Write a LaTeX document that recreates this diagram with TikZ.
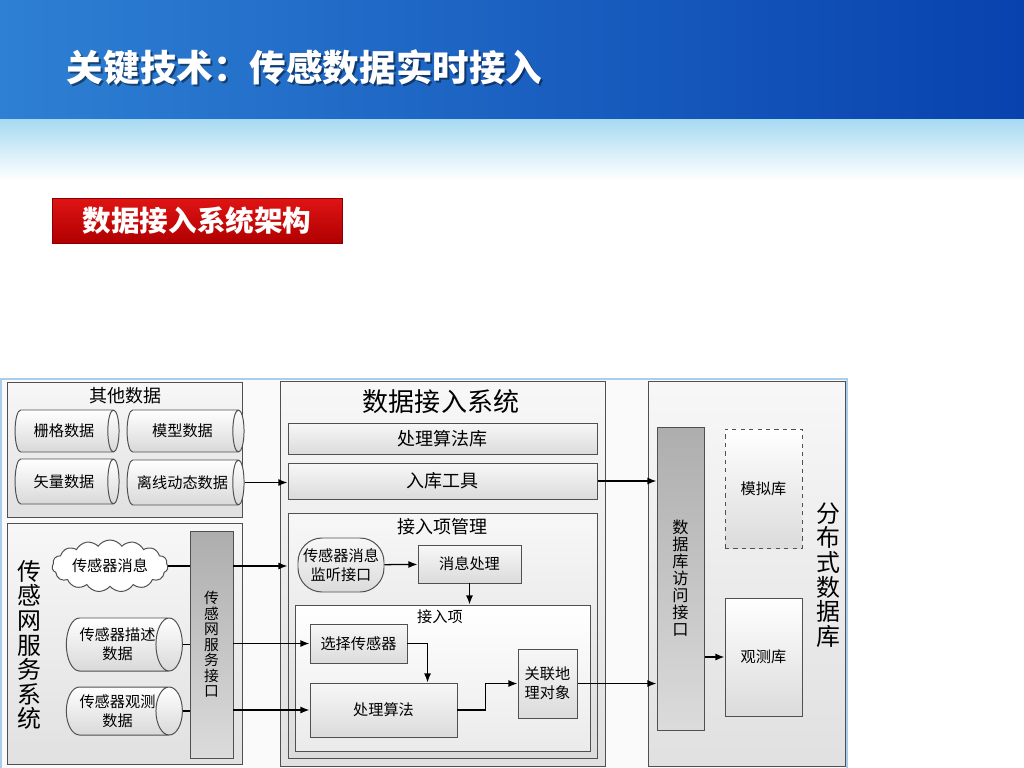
\documentclass[tikz,border=0pt]{standalone}
\usepackage{fontspec}
\setmainfont{Noto Sans CJK SC}
\usetikzlibrary{shapes.geometric,shapes.symbols,arrows.meta}

\definecolor{hdrleft}{HTML}{2E80D4}
\definecolor{hdrright}{HTML}{0842AE}
\definecolor{glow}{HTML}{A8DAF2}
\definecolor{bannertop}{HTML}{E01414}
\definecolor{bannerbot}{HTML}{B00000}
\definecolor{bannerdark}{HTML}{8A0000}
\definecolor{framecol}{HTML}{A9CDEB}
\definecolor{edgecol}{HTML}{505050}

\tikzset{
    dims/.style 2 args={minimum width=#1*0.025cm, minimum height=#2*0.025cm},
    ddims/.style 2 args={minimum height=#1*0.025cm, minimum width=#2*0.025cm},
    panel/.style={draw=edgecol, line width=0.7pt, top color=black!3, bottom color=black!12, inner sep=0pt},
    box/.style={draw=edgecol, line width=0.7pt, top color=black!3, bottom color=black!14, inner sep=0pt, align=center},
    bar/.style={draw=edgecol, line width=0.7pt, top color=black!32, bottom color=black!14, inner sep=0pt, align=center},
    drum/.style={cylinder, shape aspect=0.8, draw=edgecol, line width=0.7pt, top color=white, bottom color=black!15, inner sep=0pt, align=center},
    link/.style={->, line width=0.9pt},
    wire/.style={line width=0.9pt},
    headfont/.style={font=\bfseries\fontsize{26pt}{30pt}\selectfont},
    txs/.style={font=\fontsize{10.8pt}{13.5pt}\selectfont},
    txm/.style={font=\fontsize{12.8pt}{15pt}\selectfont},
    txl/.style={font=\fontsize{18.5pt}{22pt}\selectfont},
    txv/.style={font=\fontsize{17pt}{17.5pt}\selectfont, align=center},
    txb/.style={font=\fontsize{10.5pt}{11pt}\selectfont},
    txd/.style={font=\fontsize{11.5pt}{12.1pt}\selectfont},
}

\begin{document}
\begin{tikzpicture}[x=0.025cm, y=-0.025cm, >={Latex[length=6.5pt,width=5pt]}]
    \useasboundingbox (0,0) rectangle (1024,768);
    \shade[left color=hdrleft, right color=hdrright] (0,0) rectangle (1024,120);
    \shade[top color=glow, bottom color=white] (0,120) rectangle (1024,180);
    \node[anchor=west, text=black, opacity=0.45, headfont] (titleshadow) at (64,70) {关键技术：传感数据实时接入};
    \node[anchor=west, text=white, headfont] (title) at (62,68) {关键技术：传感数据实时接入};
    \node[draw=bannerdark, top color=bannertop, bottom color=bannerbot, text=white, dims={290}{45},
        font=\bfseries\fontsize{20.3pt}{24pt}\selectfont] (banner) at (197,220.5) {数据接入系统架构};

    \draw[framecol, line width=1.5pt, fill=black!2] (1,379) rectangle (847,772);

    % 其他数据
    \node[panel, dims={235}{135}] (other) at (124.5,449.5) {};
    \node[txm] (otherlbl) at (125,396) {其他数据};
    \node[drum, ddims={104}{42}, txs] (raster) at (64,431) {栅格数据};
    \node[drum, ddims={117}{42}, txs] (model) at (182.5,431) {模型数据};
    \node[drum, ddims={104}{45}, txs] (vector) at (64,481.5) {矢量数据};
    \node[drum, ddims={117}{45}, txs] (offline) at (182.5,482.5) {离线动态数据};

    % 传感网服务系统
    \node[panel, dims={235}{241}] (sws) at (124.5,643.5) {};
    \node[txv] (swslbl) at (29,645) {传\\感\\网\\服\\务\\系\\统};
    \node[cloud, cloud puffs=15, cloud puff arc=110, aspect=2.6, draw=edgecol, line width=0.7pt, fill=white,
        dims={116}{48}, inner sep=0pt, txs] (msg) at (110,566) {传感器消息};
    \node[drum, ddims={115}{53}, txs] (desc) at (117.5,644.5) {传感器描述\\数据};
    \node[drum, ddims={115}{48}, txs] (obs) at (117.5,711) {传感器观测\\数据};
    \node[bar, dims={43}{227}, txb] (swsif) at (211.5,644.5) {传\\感\\网\\服\\务\\接\\口};

    % 数据接入系统
    \node[panel, dims={325}{385}] (das) at (442.5,573.5) {};
    \node[txl] (daslbl) at (441,402) {数据接入系统};
    \node[box, dims={309}{31}, txm] (alglib) at (442.5,438.5) {处理算法库};
    \node[box, dims={309}{36}, txm] (store) at (442.5,481) {入库工具};
    \node[box, dims={309}{245}] (mgmt) at (442.5,635.5) {};
    \node[txm] (mgmtlbl) at (442,527) {接入项管理};
    \node[box, rounded corners=0.6cm, dims={86}{54}, txs] (listen) at (341,565) {传感器消息\\监听接口};
    \node[box, dims={103}{38}, txs] (msgproc) at (469.5,564) {消息处理};
    \node[box, top color=white, bottom color=black!8, dims={295}{146}] (item) at (442.5,678) {};
    \node[txs] (itemlbl) at (440,617) {接入项};
    \node[box, dims={97}{39}, txs] (selsensor) at (358.5,643.5) {选择传感器};
    \node[box, dims={147}{54}, txs] (proc) at (383.5,710) {处理算法};
    \node[box, dims={59}{69}, txs] (geo) at (547.5,683.5) {关联地\\理对象};

    % 分布式数据库
    \node[panel, dims={197}{385}] (ddb) at (746.5,573.5) {};
    \node[txv] (ddblbl) at (828,575) {分\\布\\式\\数\\据\\库};
    \node[bar, dims={47}{303}, txd] (dbif) at (680.5,578.5) {数\\据\\库\\访\\问\\接\\口};
    \node[box, dashed, top color=white, dims={77}{119}, txs] (simdb) at (763.5,488.5) {模拟库};
    \node[box, top color=white, dims={77}{118}, txs] (obsdb) at (763.5,657) {观测库};

    \draw[link] (offline.east) -- (offline.east -| store.west);
    \draw[wire] (msg.east) -- (msg.east -| swsif.west);
    \draw[link] (msg.east -| swsif.east) -- (msg.east -| mgmt.west);
    \draw[wire] (desc.east) -- (desc.east -| swsif.west);
    \draw[link] (selsensor.west -| swsif.east) -- (selsensor.west);
    \draw[wire] (obs.east) -- (obs.east -| swsif.west);
    \draw[link] (proc.west -| swsif.east) -- (proc.west);
    \draw[link] (listen) -- (msgproc);
    \draw[link] (msgproc) -- (msgproc.south |- item.north);
    \draw[link] (selsensor.east) -| ([xshift=1.1cm]proc.north);
    \draw[link] (proc.east) -- ++(28,0) |- (geo.west);
    \draw[link] (geo.east) -- (geo.east -| dbif.west);
    \draw[link] (store.east) -- (store.east -| dbif.west);
    \draw[link] (obsdb.west -| dbif.east) -- (obsdb.west);
\end{tikzpicture}
\end{document}
